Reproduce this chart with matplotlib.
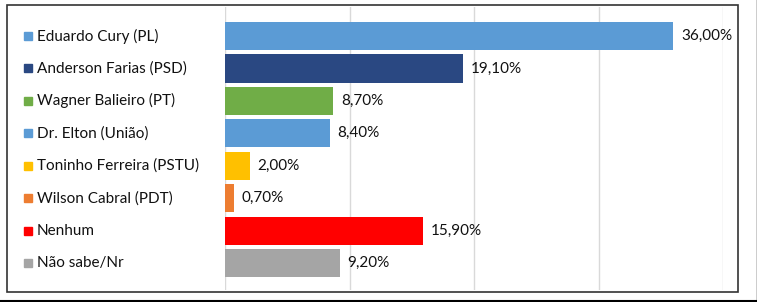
import matplotlib.pyplot as plt
import matplotlib.patches as mpatches

# Data
candidates = ['Eduardo Cury (PL)', 'Anderson Farias (PSD)', 'Wagner Balieiro (PT)',
              'Dr. Elton (União)', 'Toninho Ferreira (PSTU)', 'Wilson Cabral (PDT)',
              'Nenhum', 'Não sabe/Nr']
values = [36.0, 19.1, 8.7, 8.4, 2.0, 0.7, 15.9, 9.2]
colors = ['#5B9BD5', '#2A4882', '#70AD47', '#5B9BD5', '#FFC000', '#ED7D31',
          '#FF0000', '#A5A5A5']
xticks = [0, 10, 20, 30, 40]

plt.rcParams['font.family'] = ['Lato', 'DejaVu Sans']

W, H = 757, 302
fig = plt.figure(figsize=(W / 100, H / 100), dpi=100)
ax = fig.add_axes([225 / W, 1 - 290 / H, (723 - 225) / W, (290 - 7) / H])

ypos = list(range(len(candidates)))
ax.barh(ypos, values, height=0.87, color=colors, zorder=3)

ax.set_xlim(0, 40)
ax.set_ylim(7.83, -0.895)
ax.set_xticks(xticks)
ax.grid(axis='x', color='#D9D9D9', linewidth=1, zorder=0)
ax.tick_params(left=False, bottom=False, labelleft=False, labelbottom=False)
for s in ax.spines.values():
    s.set_visible(False)

tr = ax.get_yaxis_transform()
for y, name, val, c in zip(ypos, candidates, values, colors):
    ax.text(val + 0.62, y, f'{val:.2f}%'.replace('.', ','), va='center',
            ha='left', fontsize=11, color='#111111')
    ax.plot([-0.3946], [y], marker='s', markersize=6.3, color=c,
            transform=tr, clip_on=False)
    ax.text(-0.3775, y, name, va='center', ha='left', fontsize=11,
            color='#111111', transform=tr)

# outer frame and page edges
fig.patches.append(mpatches.Rectangle((7 / W, 1 - 292 / H), (738 - 7) / W, (292 - 5) / H,
                                      transform=fig.transFigure, fill=False,
                                      edgecolor='#333333', linewidth=1.2))
fig.lines.append(plt.Line2D([0, 1], [1 - 301 / H, 1 - 301 / H],
                            transform=fig.transFigure, color='black', linewidth=1.5))
fig.lines.append(plt.Line2D([756.5 / W, 756.5 / W], [1 - 301 / H, 1],
                            transform=fig.transFigure, color='black', linewidth=1))

fig.savefig('out.png', dpi=100)
